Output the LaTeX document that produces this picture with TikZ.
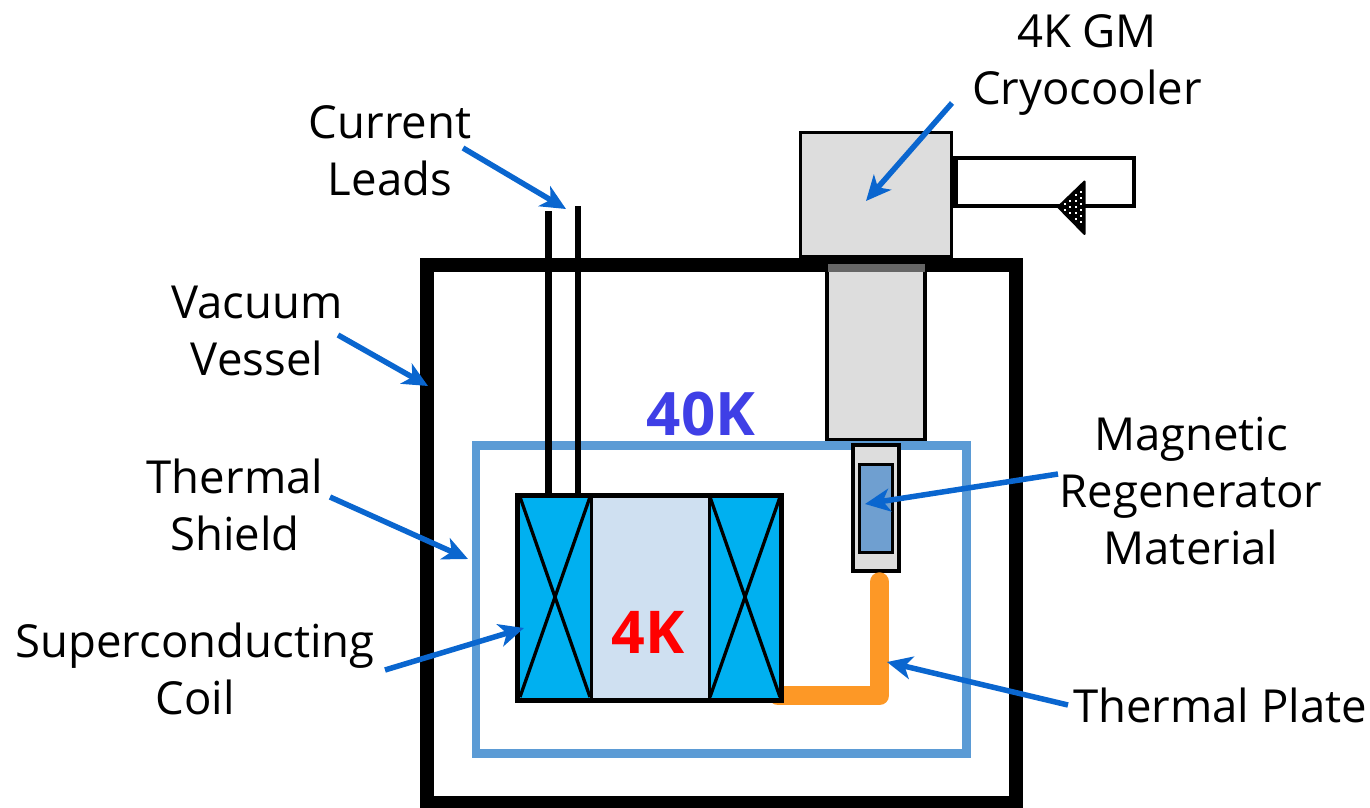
\documentclass[tikz,border=0pt]{standalone}
\usepackage{fontspec}
\setmainfont{Open Sans}
\usetikzlibrary{arrows.meta}
\definecolor{callout}{HTML}{0A66CF}
\definecolor{coolgray}{HTML}{DDDDDD}
\definecolor{shieldblue}{HTML}{5B9BD5}
\definecolor{coilblue}{HTML}{00B0F0}
\definecolor{borepale}{HTML}{CFE0F1}
\definecolor{regenblue}{HTML}{6F9FD0}
\definecolor{plateorange}{HTML}{FD9826}
\definecolor{fortyblue}{HTML}{3F3FE6}
\tikzset{
  x=1pt,y=-1pt,
  label/.style={align=center,inner sep=0pt,font=\fontsize{45.5}{57}\selectfont},
  callarrow/.style={draw=callout,line width=5.5pt,-{Stealth[length=25pt,width=23pt,inset=7pt]}},
  part/.style={draw=black,line width=3.5pt},
  xline/.style={draw=black,line width=3.3pt},
}
\begin{document}
\begin{tikzpicture}
\useasboundingbox (0,0) rectangle (1370,808);
% vessel
\draw[black,line width=14pt] (427,265) rectangle (1016,803);
% cryocooler
\node[part,fill=coolgray,minimum width=151pt,minimum height=124pt,inner sep=0pt] (head) at (876,194.5) {};
\draw[black,line width=3.5pt,fill=white] (955,158) rectangle (1134,206);
\draw[black,line width=6pt] (955,158) -- (955,206);
\node[part,fill=coolgray,minimum width=98pt,minimum height=175pt,inner sep=0pt] (column) at (876,352.5) {};
\fill[black!60] (827.5,264) rectangle (924.5,272);
% valve triangle
\fill[black,draw=black,line width=2pt,line join=round] (1058,207) -- (1084.5,181.5) -- (1084.5,234) -- cycle;
\foreach \px/\ys in {1081/{192,198,204,210,216,222},1075.5/{195,201,207,213,219},1070/{201,207,213},1064.5/{204,210}}
  \foreach \py in \ys \fill[white] (\px-1,\py-1) rectangle (\px+1,\py+1);
% shield
\draw[shieldblue,line width=8.5pt] (476,445.5) rectangle (966.5,753.5);
\node[font=\fontsize{60}{60}\selectfont\bfseries,text=fortyblue,inner sep=0pt] (t40) at (701,414) {40K};
% regenerator
\node[part,fill=coolgray,minimum width=46pt,minimum height=126pt,inner sep=0pt] (regen) at (876,508) {};
\node[draw=black,line width=3.5pt,fill=regenblue,minimum width=33pt,minimum height=88pt,inner sep=0pt] (regencore) at (876,508.5) {};
% thermal plate
\draw[plateorange,line width=19.5pt,line cap=round,line join=round] (778,695.5) -- (879.5,695.5) -- (879.5,582);
% leads
\draw[black,line width=7pt] (548,211) -- (548,494);
\draw[black,line width=6pt] (578,206) -- (578,494);
% coil
\fill[borepale] (592,495) rectangle (708,700);
\fill[coilblue] (518,495) rectangle (591,700);
\fill[coilblue] (709,495) rectangle (781,700);
\draw[xline] (520,497) -- (590,697);
\draw[xline] (590,497) -- (520,697);
\draw[xline] (710,497) -- (780,697);
\draw[xline] (780,497) -- (710,697);
\draw[black,line width=3pt] (591,495) -- (591,700);
\draw[black,line width=3pt] (709,495) -- (709,700);
\draw[black,line width=5pt] (517.5,495.5) rectangle (781,700);
\node[inner sep=0pt,font=\fontsize{59}{59}\selectfont\bfseries,text=red] (t4) at (648,632) {4K};
% labels
\node[label] (lcryo) at (1087,65) {4K GM\\Cryocooler};
\node[label] (lcurrent) at (390,151) {Current\\Leads};
\node[label] (lvacuum) at (257,331) {Vacuum\\Vessel};
\node[label] (lshield) at (235,505) {Thermal\\Shield};
\node[label] (lcoil) at (195,669) {Superconducting\\Coil};
\node[label] (lregen) at (1191,491) {Magnetic\\Regenerator\\Material};
\node[label] (lplate) at (1220,705) {Thermal Plate};
% callouts
\coordinate (c1s) at (952,103); \coordinate (c1e) at (866,201);
\coordinate (c2s) at (463,148); \coordinate (c2e) at (566,209);
\coordinate (c3s) at (338,335); \coordinate (c3e) at (428,386);
\coordinate (c4s) at (330,497); \coordinate (c4e) at (468,559);
\coordinate (c5s) at (385,670); \coordinate (c5e) at (524,628);
\coordinate (c6s) at (1058,474); \coordinate (c6e) at (865,504);
\coordinate (c7s) at (1068,705); \coordinate (c7e) at (887,662);
\foreach \n in {1,...,7} \draw[callarrow] (c\n s) -- (c\n e);
\end{tikzpicture}
\end{document}
